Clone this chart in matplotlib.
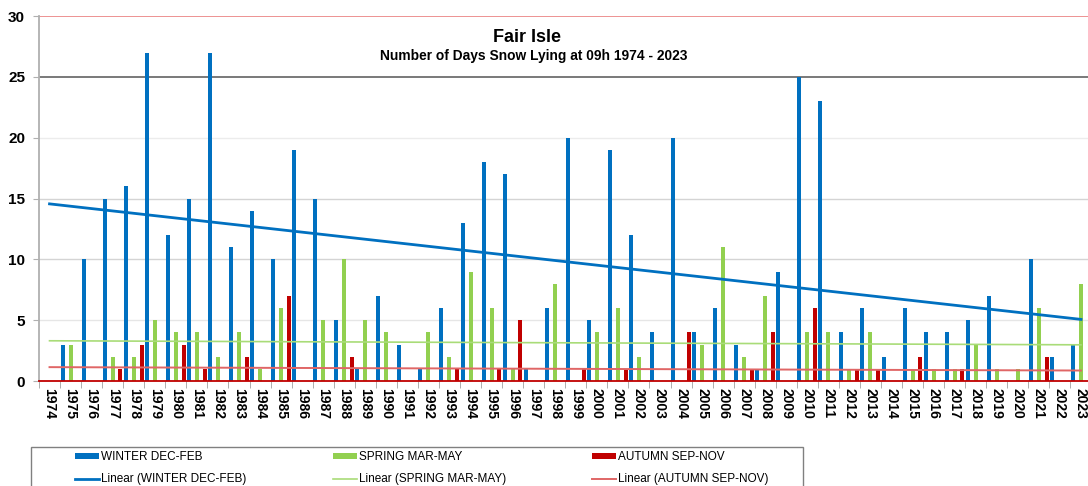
import numpy as np
import matplotlib
matplotlib.use('Agg')
import matplotlib.pyplot as plt
from matplotlib.patches import Patch, Rectangle
from matplotlib.lines import Line2D

plt.rcParams['font.family'] = ['Liberation Sans', 'DejaVu Sans']

# Data (winter 1974 is blank)
nan = np.nan
years = list(range(1974, 2024))
winter = [nan, 3, 10, 15, 16, 27, 12, 15, 27, 11, 14, 10, 19, 15, 5, 1, 7, 3, 1, 6,
          13, 18, 17, 1, 6, 20, 5, 19, 12, 4, 20, 4, 6, 3, 1, 9, 25, 23, 4, 6,
          2, 6, 4, 4, 5, 7, 0, 10, 2, 3]
spring = [0, 3, 0, 2, 2, 5, 4, 4, 2, 4, 1, 6, 0, 5, 10, 5, 4, 0, 4, 2,
          9, 6, 1, 0, 8, 0, 4, 6, 2, 0, 0, 3, 11, 2, 7, 0, 4, 4, 1, 4,
          0, 1, 1, 1, 3, 1, 1, 6, 0, 8]
autumn = [0, 0, 0, 1, 3, 0, 3, 1, 0, 2, 0, 7, 0, 0, 2, 0, 0, 0, 0, 1,
          0, 1, 5, 0, 0, 1, 0, 1, 0, 0, 4, 0, 0, 1, 4, 0, 6, 0, 1, 1,
          0, 2, 0, 1, 0, 0, 0, 2, 0, 0]

series = [
    ('WINTER DEC-FEB', winter, '#0070c0', -0.38, '#0070c0', 2.0),
    ('SPRING MAR-MAY', spring, '#92d050', 0.0, '#a9dc78', 1.2),
    ('AUTUMN SEP-NOV', autumn, '#c00000', 0.37, '#e06666', 1.4),
]

W, H = 1088, 486
fig = plt.figure(figsize=(W / 100, H / 100), dpi=100)
ax = fig.add_axes([39 / W, (H - 381) / H, 1052.5 / W, 365 / H])

x = np.arange(len(years))
for name, vals, col, off, tcol, tlw in series:
    v = np.array(vals, dtype=float)
    ax.bar(x + off, np.nan_to_num(v), width=0.19, color=col, zorder=3)
    ok = ~np.isnan(v)
    k, b = np.polyfit(x[ok], v[ok], 1)
    ax.plot(x, k * x + b, color=tcol, lw=tlw, zorder=4)

ax.set_xlim(-0.5, len(years) - 0.5)
ax.set_ylim(0, 30)
ax.set_yticks(range(0, 31, 5))
ax.tick_params(axis='y', labelsize=11, length=4, color='#b0b0b0', pad=6)
for lab in ax.get_yticklabels():
    lab.set_fontweight('bold')

ax.set_xticks(x)
ax.set_xticklabels([str(y) for y in years], rotation=-90, fontsize=10,
                   fontweight='bold', va='top')
ax.tick_params(axis='x', length=0, pad=5)
ax.set_xticks(np.arange(-0.5, len(years), 1), minor=True)
ax.tick_params(axis='x', which='minor', length=5, color='#a0a0a0')

# gridlines, each with its own shade like the original
grid_cols = {5: '#e6e6e6', 10: '#d4d4d4', 15: '#d4d4d4', 20: '#ececec',
             25: '#6e6e6e', 30: '#ec8a8a'}
for lvl, c in grid_cols.items():
    ax.axhline(lvl, color=c, lw=1.3 if lvl in (25, 30) else 1.0, zorder=1)

for s in ['top', 'right']:
    ax.spines[s].set_visible(False)
ax.spines['left'].set_color('#b0b0b0')
ax.spines['left'].set_linewidth(1.3)
ax.spines['bottom'].set_color('#c00000')
ax.spines['bottom'].set_linewidth(1.3)
ax.spines['bottom'].set_zorder(5)

fig.text(527 / W, 1 - 38 / H, 'Fair Isle', ha='center', va='center',
         fontsize=13, fontweight='bold')
fig.text(534 / W, 1 - 56 / H, 'Number of Days Snow Lying at 09h 1974 - 2023',
         ha='center', va='center', fontsize=9.9, fontweight='bold')

handles = []
for name, vals, col, off, tcol, tlw in series:
    handles.append(Patch(facecolor=col, edgecolor='none', label=name))
    handles.append(Line2D([], [], color=tcol, lw=tlw, label='Linear (%s)' % name))

# legend frame (wider than its content, runs off the bottom edge)
fig.patches.append(Rectangle((31 / W, -0.05), (803 - 31) / W, 0.05 + (H - 447) / H,
                             transform=fig.transFigure, facecolor='none',
                             edgecolor='#808080', lw=1.0))
leg = fig.legend(handles=handles, ncol=3, loc='upper left',
                 bbox_to_anchor=(70 / W, 1 - 446 / H), fontsize=8.5,
                 frameon=False, handlelength=2.03, handleheight=0.35,
                 handletextpad=0.17, columnspacing=7.3, borderpad=0.45,
                 labelspacing=0.85, borderaxespad=0)

fig.savefig('out.png', dpi=100)
